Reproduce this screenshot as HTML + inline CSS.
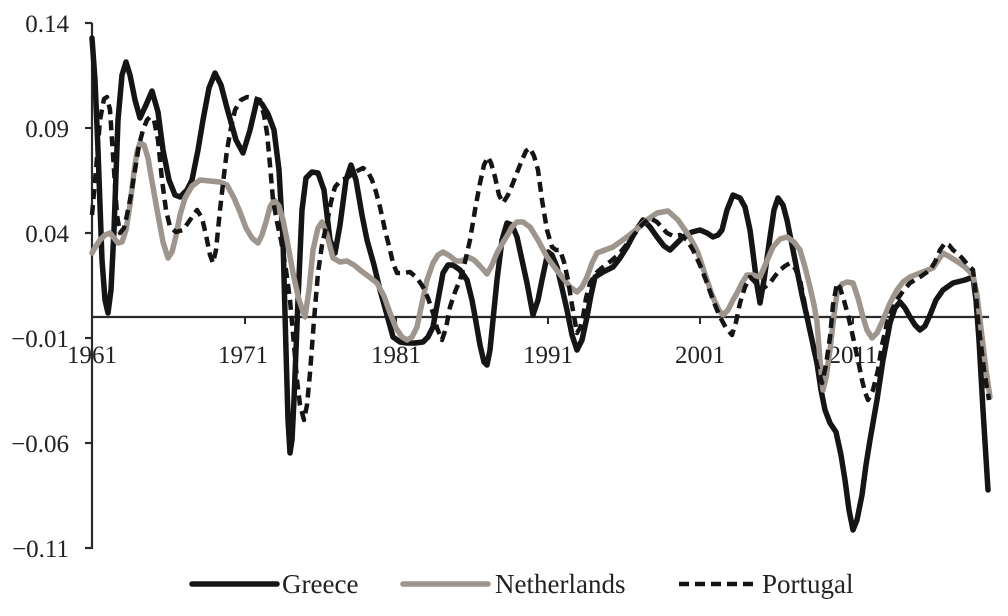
<!DOCTYPE html>
<html>
<head>
<meta charset="utf-8">
<style>
  html, body { margin:0; padding:0; background:#fff; }
  svg { display:block; }
  text { font-family: "Liberation Serif", "DejaVu Serif", serif; fill:#222; }
</style>
</head>
<body>
<svg width="1008" height="616" viewBox="0 0 1008 616" xmlns="http://www.w3.org/2000/svg">
  <rect width="1008" height="616" fill="#fff"/>

  <!-- Y axis -->
  <line x1="92" y1="23" x2="92" y2="549" stroke="#2a2a2a" stroke-width="2.2"/>
  <g stroke="#2a2a2a" stroke-width="2.2">
    <line x1="85" y1="23" x2="92" y2="23"/>
    <line x1="85" y1="128" x2="92" y2="128"/>
    <line x1="85" y1="233" x2="92" y2="233"/>
    <line x1="85" y1="338" x2="92" y2="338"/>
    <line x1="85" y1="443" x2="92" y2="443"/>
    <line x1="85" y1="548" x2="92" y2="548"/>
  </g>
  <g font-size="25" text-anchor="end">
    <text x="69" y="32">0.14</text>
    <text x="69" y="137">0.09</text>
    <text x="69" y="242">0.04</text>
    <text x="69" y="347">−0.01</text>
    <text x="69" y="452">−0.06</text>
    <text x="69" y="557">−0.11</text>
  </g>

  <!-- X axis -->
  <line x1="92" y1="317" x2="989" y2="317" stroke="#2a2a2a" stroke-width="2.2"/>
  <g stroke="#2a2a2a" stroke-width="2">
    <line x1="245" y1="317" x2="245" y2="324"/>
    <line x1="396" y1="317" x2="396" y2="324"/>
    <line x1="548" y1="317" x2="548" y2="324"/>
    <line x1="700" y1="317" x2="700" y2="324"/>
    <line x1="853" y1="317" x2="853" y2="324"/>
  </g>
  <g font-size="25" text-anchor="middle">
    <text x="92" y="363">1961</text>
    <text x="243" y="363">1971</text>
    <text x="396" y="363">1981</text>
    <text x="548" y="363">1991</text>
    <text x="700" y="363">2001</text>
    <text x="853" y="363">2011</text>
  </g>

  <!-- Greece -->
  <polyline fill="none" stroke="#151515" stroke-width="5.5" stroke-linejoin="round" stroke-linecap="round"
    points="92,38 95,80 98,150 102,260 105,300 108,313 111,290 114,230 118,120 122,75 126,62 130,75 135,100 140,118 146,105 152,91 158,112 163,150 169,180 175,195 180,197 187,190 192,180 198,150 203,120 209,88 215,73 221,85 227,108 236,140 243,153 250,130 257,100 262,104 268,114 274,130 279,170 283,240 286,350 288,420 290,453 292,440 294,400 298,300 302,210 306,178 312,172 318,173 324,190 330,240 335,253 340,225 346,180 351,165 356,180 362,215 367,240 374,265 380,290 387,315 393,337 400,342 407,343 415,343 423,342 428,337 433,327 438,300 443,273 448,265 453,265 460,270 467,280 472,300 476,322 480,345 484,362 487,365 490,350 494,310 497,280 502,240 507,223 512,225 517,237 522,260 527,283 533,315 538,300 542,280 548,252 552,255 557,267 562,288 567,310 572,335 577,350 582,340 587,317 591,295 595,277 603,272 613,267 620,258 627,247 635,232 643,220 650,227 657,237 664,246 670,250 677,243 683,237 692,232 700,230 707,233 713,237 718,235 722,230 727,210 733,195 740,198 745,207 750,230 753,253 757,285 760,303 764,280 770,237 774,210 778,198 783,205 787,220 792,245 797,270 802,295 807,317 812,340 817,363 821,390 825,410 830,423 836,432 841,455 845,480 849,510 853,530 857,520 862,495 866,465 870,440 877,400 883,360 890,323 895,308 900,302 905,308 910,317 915,325 920,330 925,326 930,315 936,300 943,290 953,283 965,280 973,277 976,300 979,340 983,410 988,490"/>

  <!-- Netherlands -->
  <polyline fill="none" stroke="#9e958d" stroke-width="5.5" stroke-linejoin="round" stroke-linecap="round"
    points="92,253 96,246 100,240 105,235 110,233 114,238 118,243 122,242 126,230 130,205 134,172 137,152 140,143 144,145 148,158 153,187 158,215 163,242 168,258 172,252 176,236 180,215 185,198 192,186 200,180 210,181 220,182 227,185 234,198 240,212 246,228 252,238 258,243 262,235 266,222 270,207 274,200 279,206 283,220 287,240 293,273 299,300 305,317 309,290 313,250 318,228 322,222 327,235 333,258 340,262 347,261 354,265 360,270 368,276 377,283 384,296 390,313 396,328 402,337 407,340 412,337 417,327 422,303 427,280 433,263 438,255 443,252 450,256 456,261 462,261 468,257 474,260 480,266 487,274 492,265 497,253 502,244 507,236 512,227 517,222 523,222 530,227 538,240 547,257 555,268 563,278 570,287 577,292 582,287 587,277 592,263 597,253 605,250 613,247 620,242 627,237 637,229 647,220 657,213 668,211 678,220 687,233 693,243 698,253 703,268 707,280 711,292 715,302 719,310 723,315 728,310 733,300 737,293 742,283 747,275 753,275 760,277 766,263 773,247 780,239 787,237 794,242 800,250 805,267 810,287 814,305 817,322 820,360 823,390 826,378 830,350 834,315 837,293 842,284 847,282 853,283 858,298 863,317 867,330 872,338 877,333 883,320 890,303 897,290 903,282 910,277 920,273 933,268 943,253 950,257 958,262 965,267 973,275 977,295 980,320 983,345 986,370 990,397"/>

  <!-- Portugal -->
  <polyline fill="none" stroke="#151515" stroke-width="4.5" stroke-dasharray="10 6" stroke-linejoin="round"
    points="92,215 96,170 100,120 104,99 107,97 110,110 114,170 117,215 120,233 124,228 127,215 131,195 135,170 139,145 143,130 147,120 150,117 154,120 158,140 162,180 166,210 170,227 176,232 183,230 190,220 197,210 202,218 206,235 210,255 213,263 216,250 220,210 224,175 227,150 231,128 235,110 241,100 247,97 254,98 260,100 264,115 267,133 270,165 273,200 277,222 281,240 286,270 290,300 294,345 297,380 300,405 304,420 307,405 310,373 314,320 318,273 322,245 327,223 331,202 335,187 341,180 347,178 355,172 363,168 368,172 372,180 376,192 380,207 385,230 390,250 393,263 397,273 403,273 410,272 417,278 423,287 428,298 433,313 437,328 442,340 446,328 450,307 455,292 460,280 465,262 470,240 475,210 480,183 484,165 488,157 491,163 495,177 499,195 503,203 508,195 513,183 518,170 522,160 526,151 530,148 534,156 538,170 542,200 547,230 552,247 556,250 560,250 564,262 568,280 572,305 577,333 580,328 583,317 586,298 590,283 596,273 603,267 611,261 620,253 630,240 640,227 645,222 650,218 657,222 667,233 673,236 680,235 687,240 693,250 700,265 707,283 713,300 720,317 726,328 732,335 736,322 740,303 745,287 750,277 755,282 760,290 765,287 770,283 775,276 780,270 785,266 790,263 795,268 800,280 806,310 810,330 813,347 817,365 822,383 826,365 830,337 833,305 837,283 840,288 843,297 848,315 853,337 858,360 862,380 865,392 868,400 873,390 878,370 882,345 887,323 892,310 897,300 903,291 910,283 920,277 930,270 935,262 940,250 945,243 949,245 953,250 958,254 962,258 968,265 973,270 976,295 978,320 981,345 984,370 987,388 989,400"/>

  <!-- Legend -->
  <line x1="192" y1="584" x2="277" y2="584" stroke="#151515" stroke-width="5.5" stroke-linecap="round"/>
  <text x="282" y="593" font-size="27">Greece</text>
  <line x1="403" y1="584" x2="488" y2="584" stroke="#9e958d" stroke-width="5.5" stroke-linecap="round"/>
  <text x="495" y="593" font-size="27">Netherlands</text>
  <line x1="679" y1="584" x2="756" y2="584" stroke="#151515" stroke-width="4.5" stroke-dasharray="10 6"/>
  <text x="762" y="593" font-size="27">Portugal</text>
</svg>
</body>
</html>
